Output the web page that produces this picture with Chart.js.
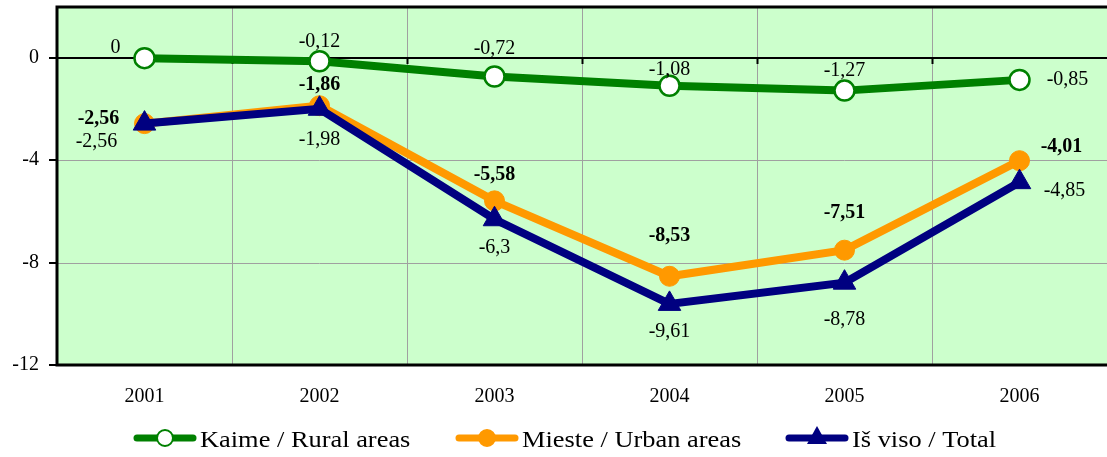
<!DOCTYPE html>
<html>
<head>
<meta charset="utf-8">
<script src="https://cdn.jsdelivr.net/npm/chart.js@4"></script>
<style>
  html, body { margin: 0; padding: 0; background: #fff; overflow: hidden; }
  #wrap { width: 1107px; height: 457px; }
</style>
</head>
<body>
<div id="wrap"><canvas id="myChart"></canvas></div>
<script>
// data
var years = ['2001', '2002', '2003', '2004', '2005', '2006'];
var rural = [0, -0.12, -0.72, -1.08, -1.27, -0.85];
var urban = [-2.56, -1.86, -5.58, -8.53, -7.51, -4.01];
var total = [-2.56, -1.98, -6.3, -9.61, -8.78, -4.85];
var yTicks = [-12, -8, -4, 0];
var seriesNames = ['Kaime / Rural areas', 'Mieste / Urban areas', 'Iš viso / Total'];

// label offsets (pixels from the point)
var ruralOff = [[-29, -10], [0, -19], [0, -28], [0, -16], [0, -20], [48, 0]];
var urbanOff = [[-46, -5], [0, -21], [0, -26], [0, -40], [0, -37], [42, -14]];
var totalOff = [[-48, 18], [0, 31], [0, 29], [0, 28], [0, 37], [45, 9]];

var SERIF = '"Liberation Serif", "Times New Roman", serif';

function fmt(v) {
    return String(v).replace('.', ',');
}

// draws text, optionally a bit wider (legend in the original is)
function putText(ctx, t, x, y, align, stretch) {
    ctx.save();
    ctx.translate(x, y);
    ctx.scale(stretch || 1, 1);
    ctx.textAlign = align || 'center';
    ctx.textBaseline = 'middle';
    ctx.fillText(t, 0, 0);
    ctx.restore();
}

var drawPlugin = {
    id: 'drawExtras',
    beforeDatasetsDraw: function (chart) {
        var ctx = chart.ctx, a = chart.chartArea;
        var y = chart.scales.y, x = chart.scales.x;
        ctx.save();
        ctx.fillStyle = '#ccffcc';
        ctx.fillRect(a.left, a.top, a.right - a.left, a.bottom - a.top);
        // grid
        ctx.strokeStyle = '#a0a0a0';
        ctx.lineWidth = 1;
        for (var i = 0; i < years.length - 1; i++) {
            var gx = Math.round((x.getPixelForValue(i) + x.getPixelForValue(i + 1)) / 2) + 0.5;
            ctx.beginPath(); ctx.moveTo(gx, a.top); ctx.lineTo(gx, a.bottom); ctx.stroke();
        }
        [-4, -8].forEach(function (v) {
            var gy = Math.round(y.getPixelForValue(v)) + 0.5;
            ctx.beginPath(); ctx.moveTo(a.left, gy); ctx.lineTo(a.right, gy); ctx.stroke();
        });
        // zero line with ticks
        var zy = Math.round(y.getPixelForValue(0));
        ctx.strokeStyle = '#000';
        ctx.lineWidth = 2;
        ctx.beginPath(); ctx.moveTo(a.left, zy); ctx.lineTo(a.right, zy); ctx.stroke();
        for (var j = 0; j < years.length - 1; j++) {
            var tx = Math.round((x.getPixelForValue(j) + x.getPixelForValue(j + 1)) / 2) + 0.5;
            ctx.beginPath(); ctx.moveTo(tx, zy); ctx.lineTo(tx, zy + 6); ctx.stroke();
        }
        // border
        ctx.lineWidth = 3;
        ctx.beginPath();
        ctx.moveTo(a.right, a.top); ctx.lineTo(a.left, a.top);
        ctx.lineTo(a.left, a.bottom); ctx.lineTo(a.right, a.bottom);
        ctx.stroke();
        // y ticks and labels
        ctx.lineWidth = 2;
        ctx.fillStyle = '#000';
        ctx.font = '20px ' + SERIF;
        yTicks.forEach(function (v) {
            var ty = Math.round(y.getPixelForValue(v));
            ctx.beginPath(); ctx.moveTo(a.left - 8, ty); ctx.lineTo(a.left, ty); ctx.stroke();
            putText(ctx, String(v), 39, ty, 'right');
        });
        // x labels
        ctx.font = '20px ' + SERIF;
        years.forEach(function (yr, k) {
            putText(ctx, yr, x.getPixelForValue(k), 397, 'center');
        });
        ctx.restore();
    },
    afterDatasetsDraw: function (chart) {
        var ctx = chart.ctx;
        var sets = [[rural, ruralOff, 'normal'], [urban, urbanOff, 'bold'], [total, totalOff, 'normal']];
        ctx.save();
        ctx.fillStyle = '#000';
        sets.forEach(function (s, di) {
            var meta = chart.getDatasetMeta(di);
            ctx.font = s[2] + ' 20px ' + SERIF;
            meta.data.forEach(function (pt, i) {
                putText(ctx, fmt(s[0][i]), pt.x + s[1][i][0], pt.y + s[1][i][1], 'center');
            });
        });
        // legend
        var lx = [134, 456, 786];
        var ly = 438;
        chart.data.datasets.forEach(function (ds, i) {
            ctx.strokeStyle = ds.borderColor;
            ctx.lineWidth = 7;
            ctx.lineCap = 'round';
            ctx.beginPath(); ctx.moveTo(lx[i] + 3, ly); ctx.lineTo(lx[i] + 59, ly); ctx.stroke();
            var cx = lx[i] + 31;
            ctx.fillStyle = ds.pointBackgroundColor;
            if (ds.pointStyle === 'triangle') {
                ctx.beginPath();
                ctx.moveTo(cx, ly - 12); ctx.lineTo(cx + 10, ly + 6); ctx.lineTo(cx - 10, ly + 6);
                ctx.closePath(); ctx.fill();
            } else {
                ctx.lineWidth = 2;
                ctx.beginPath(); ctx.arc(cx, ly, 8, 0, Math.PI * 2); ctx.fill();
                ctx.strokeStyle = ds.pointBorderColor; ctx.stroke();
            }
            ctx.fillStyle = '#000';
            ctx.font = '24px ' + SERIF;
            putText(ctx, seriesNames[i], lx[i] + 66, ly + 3, 'left', 1.1);
        });
        ctx.restore();
    }
};

var ctx = document.getElementById('myChart').getContext('2d');
var myChart = new Chart(ctx, {
    type: 'line',
    data: {
        labels: years,
        datasets: [{
            label: seriesNames[0],
            data: rural,
            borderColor: '#008000',
            borderWidth: 8,
            pointStyle: 'circle',
            pointRadius: 10,
            pointBackgroundColor: '#ffffff',
            pointBorderColor: '#008000',
            pointBorderWidth: 2.5,
            order: 1
        }, {
            label: seriesNames[1],
            data: urban,
            borderColor: '#ff9900',
            borderWidth: 8,
            pointStyle: 'circle',
            pointRadius: 10,
            pointBackgroundColor: '#ff9900',
            pointBorderColor: '#ff9900',
            pointBorderWidth: 1,
            order: 2
        }, {
            label: seriesNames[2],
            data: total,
            borderColor: '#000080',
            borderWidth: 8,
            pointStyle: 'triangle',
            pointRadius: 13,
            pointBackgroundColor: '#000080',
            pointBorderColor: '#000080',
            pointBorderWidth: 1,
            order: 0
        }]
    },
    options: {
        responsive: true,
        maintainAspectRatio: false,
        animation: false,
        layout: { autoPadding: false, padding: { top: 7, right: 0, left: 0, bottom: 0 } },
        elements: { line: { tension: 0 } },
        scales: {
            x: {
                offset: true,
                grid: { display: false },
                border: { display: false },
                ticks: { display: false },
                afterFit: function (scale) {
                    scale.height = 92;
                    scale.paddingLeft = 0;
                    scale.paddingRight = 0;
                }
            },
            y: {
                min: -12,
                max: 2,
                afterBuildTicks: function (scale) {
                    scale.ticks = yTicks.map(function (v) { return { value: v }; });
                },
                grid: { display: false },
                border: { display: false },
                ticks: { display: false },
                afterFit: function (scale) {
                    scale.width = 57;
                    scale.paddingTop = 0;
                    scale.paddingBottom = 0;
                }
            }
        },
        plugins: {
            legend: { display: false },
            tooltip: { enabled: false }
        }
    },
    plugins: [drawPlugin]
});
</script>
</body>
</html>
